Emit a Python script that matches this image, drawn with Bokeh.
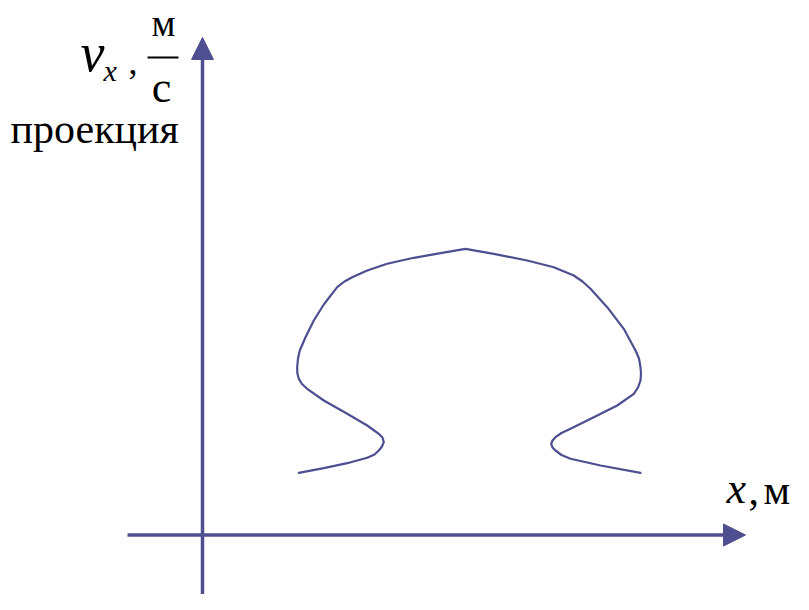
from bokeh.plotting import figure
from bokeh.models import Arrow, NormalHead, Label, Range1d
from bokeh.embed import file_html
from bokeh.resources import INLINE

# Parametric curve v_x(x) (x in "м", v_x in "м/с", arbitrary units)
curve_x = [9.63, 12.13, 14.47, 16.47, 17.2, 17.63, 17.95, 18.13, 18.0, 17.63,
           17.1, 16.47, 14.47, 12.13, 10.47, 9.95, 9.63, 9.48, 9.47, 9.55,
           9.73, 10.3, 11.13, 12.13, 13.47, 14.2, 14.97, 16.47, 18.47, 21.13,
           23.8, 26.3,
           29.13, 32.47, 35.13, 37.13, 38.0, 38.8, 40.47, 42.13, 43.3, 43.65,
           43.8, 43.85, 43.8, 43.55, 43.13, 41.47, 39.13, 36.8, 35.9, 35.3,
           35.0, 34.87, 35.0, 35.3, 35.9, 36.8, 39.8, 43.8]
curve_y = [6.22, 6.68, 7.18, 7.72, 8.05, 8.45, 8.85, 9.28, 9.75, 10.12,
           10.5, 10.95, 12.12, 13.45, 14.62, 15.1, 15.62, 16.2, 16.78, 17.65,
           18.45, 19.78, 21.45, 23.05, 24.78, 25.35, 25.78, 26.45, 27.12, 27.72,
           28.18, 28.62,
           28.12, 27.45, 26.78, 25.95, 25.35, 24.62, 22.78, 20.62, 18.45, 17.65,
           16.78, 16.15, 15.45, 14.75, 14.12, 12.95, 11.78, 10.62, 10.2, 9.78,
           9.45, 9.12, 8.75, 8.45, 8.0, 7.62, 6.95, 6.22]

y_label_name = "v"
y_label_sub = "x"
y_unit_num = "м"
y_unit_den = "с"
y_caption = "проекция"
x_label_name = "x"
x_label_unit = "м"

COLOR = "#4D4F91"
SERIF = "Liberation Serif"

p = figure(width=793, height=594, x_range=Range1d(-20.2, 59.1), y_range=Range1d(-5.95, 53.45),
           x_axis_type=None, y_axis_type=None, output_backend="svg",
           toolbar_location=None, min_border=0)
p.grid.visible = False
p.outline_line_color = None
p.background_fill_color = "white"
p.border_fill_color = "white"

# axes with arrow heads
p.add_layout(Arrow(end=NormalHead(size=22, fill_color=COLOR, line_color=COLOR, line_width=1),
                   x_start=-7.5, y_start=0, x_end=54.3, y_end=0,
                   line_color=COLOR, line_width=3.5))
p.add_layout(Arrow(end=NormalHead(size=22, fill_color=COLOR, line_color=COLOR, line_width=1),
                   x_start=0, y_start=-6.5, x_end=0, y_end=49.75,
                   line_color=COLOR, line_width=3.5))

# the curve
p.line(curve_x, curve_y, line_color=COLOR, line_width=2.2, line_join="round", line_cap="round")

def lab(x, y, text, size, italic=False, align="left"):
    p.add_layout(Label(x=x, y=y, text=text, text_font=SERIF,
                       text_font_style="italic" if italic else "normal",
                       text_font_size=f"{size}px", text_color="black",
                       text_baseline="middle", text_align=align))

# y-axis label: v_x, м/с
lab(-12.2, 48.25, y_label_name, 54, italic=True)
lab(-9.9, 46.45, y_label_sub, 30, italic=True)
lab(-7.4, 47.35, ",", 36)
lab(-3.9, 51.2, y_unit_num, 38, align="center")
p.segment(x0=[-5.5], y0=[47.75], x1=[-2.4], y1=[47.75], line_color="black", line_width=2)
lab(-4.1, 44.8, y_unit_den, 44, align="center")
lab(-19.2, 40.65, y_caption, 42)

# x-axis label: x, м
lab(52.4, 4.62, x_label_name, 44, italic=True)
lab(54.6, 4.55, ",", 42)
lab(56.1, 4.55, x_label_unit, 42)

open("out.html", "w").write(file_html(p, INLINE))
